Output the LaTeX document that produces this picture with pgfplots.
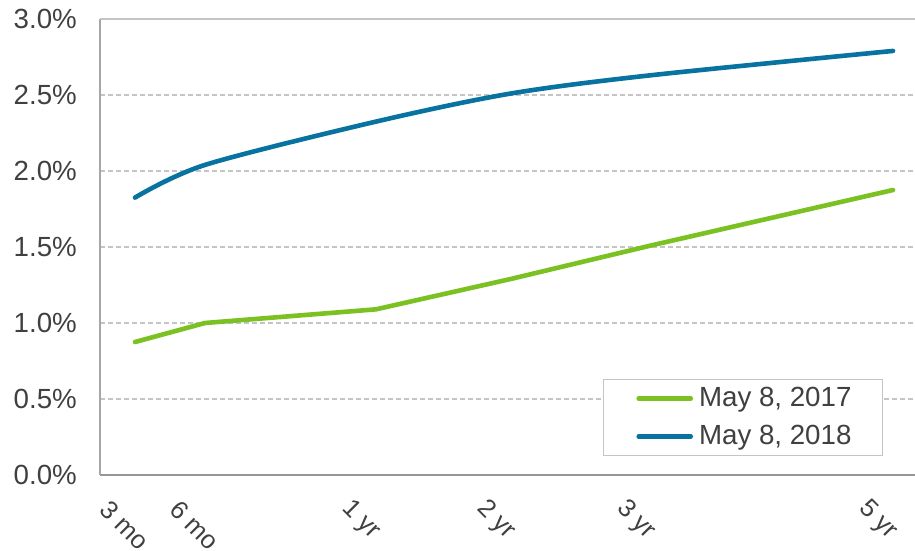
\documentclass[border=0pt]{standalone}
\usepackage{pgfplots}
\pgfplotsset{compat=1.18}
\usepackage{fontspec}
\setmainfont{Liberation Sans}

\definecolor{green17}{RGB}{122,193,33}
\definecolor{blue18}{RGB}{8,114,160}
\definecolor{txt}{HTML}{404040}
\definecolor{gridc}{HTML}{C4C4C4}
\definecolor{axisx}{HTML}{969696}
\definecolor{axisy}{HTML}{A6A6A6}

% x positions follow the spacing of the original maturity axis
\pgfplotstableread{
x    y
135  0.875
205  1.00
376  1.09
511  1.29
651  1.51
893  1.875
}\mayseventeen
\pgfplotstableread{
x    y
135  1.825
205  2.04
376  2.325
511  2.51
651  2.63
893  2.79
}\mayeighteen

\begin{document}
\begin{tikzpicture}
\begin{axis}[
    scale only axis, width=815pt, height=456pt,
    xmin=100, xmax=915, ymin=0, ymax=3,
    axis x line*=bottom, axis y line*=left,
    x axis line style={draw=axisx, line width=2pt, -},
    y axis line style={draw=axisy, line width=1.6pt, -},
    major tick length=0pt, tick style={draw=none},
    xtick={135,205,376,511,651,893},
    xticklabels={3 mo,6 mo,1 yr,2 yr,3 yr,5 yr},
    xticklabel style={font=\fontsize{25.5}{30}\selectfont,
      xshift=-30pt, yshift=-30pt, rotate=-45, anchor=west, inner sep=0pt},
    ytick={0,0.5,1,1.5,2,2.5},
    yticklabel={\pgfmathprintnumber[fixed,fixed zerofill,precision=1]{\tick}\%},
    yticklabel style={font=\fontsize{27.7}{33}\selectfont, anchor=east, inner sep=0pt, xshift=-23pt},
    extra y ticks={3}, extra y tick labels={3.0\%},
    extra y tick style={ymajorgrids=true, major grid style={solid, draw=gridc, line width=2pt}},
    ymajorgrids,
    major grid style={draw=gridc, line width=1.2pt, dash pattern=on 5pt off 3pt},
    /pgf/number format/assume math mode=true,
    tick label style={text=txt},
    legend style={at={(0.9607,0.0417)}, anchor=south east,
      draw=gridc, line width=1pt, fill=white,
      font=\fontsize{27.7}{33}\selectfont, text=txt,
      inner xsep=28pt, inner ysep=6pt, row sep=12pt, column sep=3pt,
      nodes={inner xsep=3pt, inner ysep=0pt, text height=21pt, text depth=5pt}},
    legend cell align=left,
    legend image code/.code={\path (-5pt,0pt); \draw[#1] (0pt,0pt) -- (52pt,0pt);},
    every axis plot/.append style={line width=4.6pt, line cap=round, line join=round},
]
\addplot[green17] table[x=x, y=y] {\mayseventeen};
\addlegendentry{May 8, 2017}
\addplot[blue18, smooth] table[x=x, y=y] {\mayeighteen};
\addlegendentry{May 8, 2018}
\end{axis}
\pgfresetboundingbox
\useasboundingbox (-100pt,-75pt) rectangle (815pt,475pt);
\end{tikzpicture}
\end{document}
